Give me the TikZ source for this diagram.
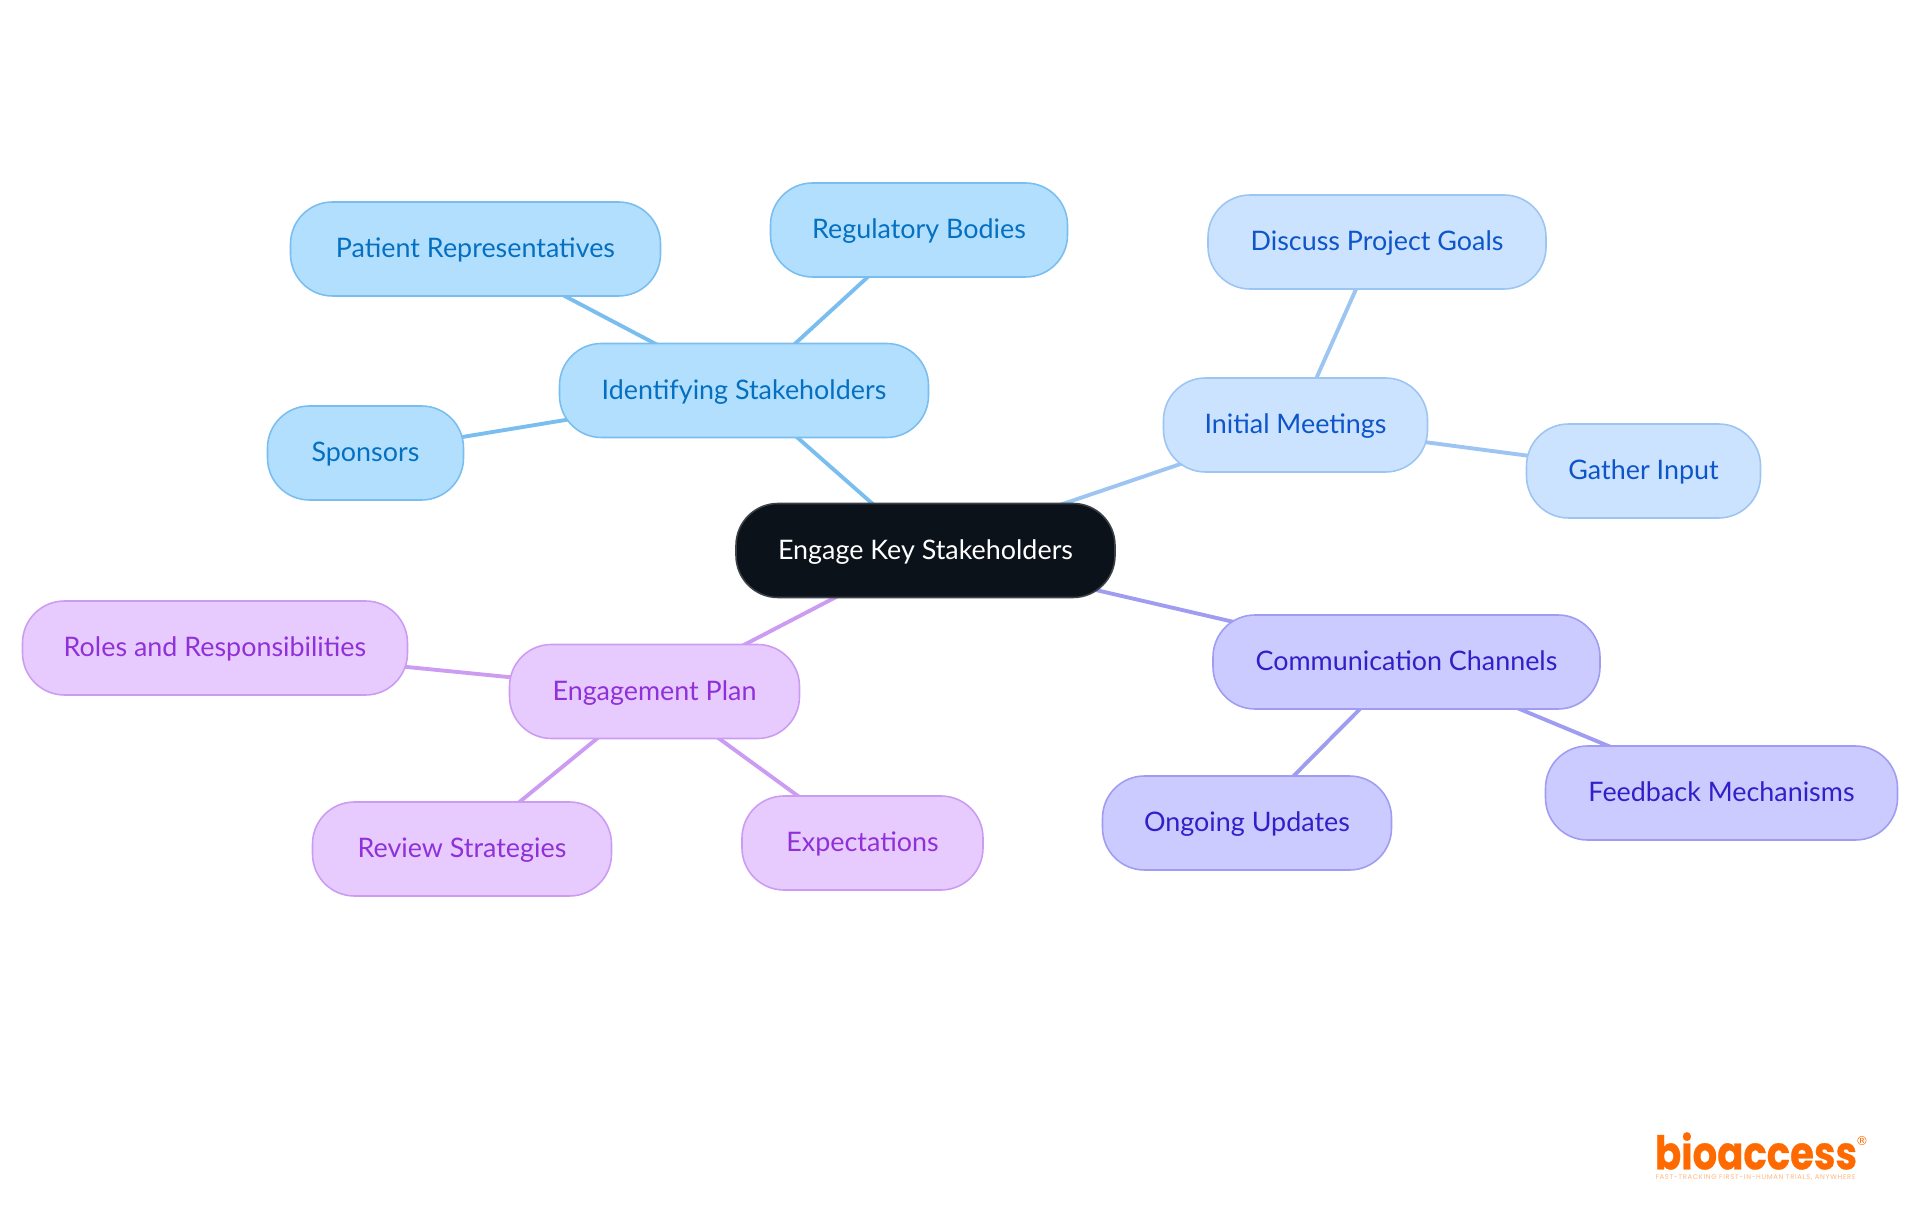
\documentclass[tikz,border=0pt]{standalone}
\usepackage{fontspec}
\setmainfont{Lato}
\newfontfamily\logofont[FakeBold=0.6]{Poppins}
\newfontfamily\tagfont[LetterSpace=10]{Poppins}
\newfontfamily\markfont{DejaVu Sans}
\usetikzlibrary{backgrounds}
\definecolor{rootfill}{HTML}{0C121A}
\definecolor{rootline}{HTML}{3C4148}
\definecolor{bluefill}{HTML}{B3DFFF}
\definecolor{blueline}{HTML}{7ABEF0}
\definecolor{bluetext}{HTML}{0570C0}
\definecolor{skyfill}{HTML}{CCE3FF}
\definecolor{skyline}{HTML}{9CC5F2}
\definecolor{skytext}{HTML}{0D55C8}
\definecolor{indigofill}{HTML}{CBCBFF}
\definecolor{indigoline}{HTML}{A09CF2}
\definecolor{indigotext}{HTML}{3020C8}
\definecolor{purplefill}{HTML}{E7CBFF}
\definecolor{purpleline}{HTML}{CB9CF2}
\definecolor{purpletext}{HTML}{9030D8}
\definecolor{logoorange}{HTML}{FF6A00}
\tikzset{
  mapnode/.style={draw, line width=0.45pt, rounded corners=0.42cm, minimum height=0.94cm,
    inner sep=0pt, text height=6.3pt, text depth=1.4pt, font=\fontsize{7.65}{9}\selectfont},
  rootnode/.style={mapnode, fill=rootfill, draw=rootline, text=white},
  bluenode/.style={mapnode, fill=bluefill, draw=blueline, text=bluetext},
  skynode/.style={mapnode, fill=skyfill, draw=skyline, text=skytext},
  indigonode/.style={mapnode, fill=indigofill, draw=indigoline, text=indigotext},
  purplenode/.style={mapnode, fill=purplefill, draw=purpleline, text=purpletext},
  bluelink/.style={draw=blueline, line width=1.1pt},
  skylink/.style={draw=skyline, line width=1.1pt},
  indigolink/.style={draw=indigoline, line width=1.1pt},
  purplelink/.style={draw=purpleline, line width=1.1pt}
}
\begin{document}
\begin{tikzpicture}
    \useasboundingbox (0, 0) rectangle (19.2, 12.15);
    % root
    \node[rootnode, minimum width=3.79cm] (root) at (9.255, 6.645) {Engage Key Stakeholders};
    % blue branch
    \node[bluenode, minimum width=3.69cm] (identify) at (7.44, 8.245) {Identifying Stakeholders};
    \node[bluenode, minimum width=3.7cm] (patient) at (4.755, 9.66) {Patient Representatives};
    \node[bluenode, minimum width=2.97cm] (regulatory) at (9.19, 9.85) {Regulatory Bodies};
    \node[bluenode, minimum width=1.96cm] (sponsors) at (3.655, 7.62) {Sponsors};
    % light blue branch
    \node[skynode, minimum width=2.64cm] (meetings) at (12.955, 7.9) {Initial Meetings};
    \node[skynode, minimum width=3.38cm] (goals) at (13.77, 9.73) {Discuss Project Goals};
    \node[skynode, minimum width=2.34cm] (input) at (16.435, 7.44) {Gather Input};
    % indigo branch
    \node[indigonode, minimum width=3.87cm] (channels) at (14.065, 5.53) {Communication Channels};
    \node[indigonode, minimum width=3.52cm] (feedback) at (17.215, 4.22) {Feedback Mechanisms};
    \node[indigonode, minimum width=2.89cm] (updates) at (12.47, 3.92) {Ongoing Updates};
    % purple branch
    \node[purplenode, minimum width=2.9cm] (plan) at (6.545, 5.235) {Engagement Plan};
    \node[purplenode, minimum width=3.85cm] (roles) at (2.15, 5.67) {Roles and Responsibilities};
    \node[purplenode, minimum width=2.99cm] (review) at (4.62, 3.66) {Review Strategies};
    \node[purplenode, minimum width=2.41cm] (expect) at (8.625, 3.72) {Expectations};
    % links go behind the nodes
    \begin{scope}[on background layer]
      \draw[bluelink] (root.center) -- (identify.center);
      \draw[bluelink] (identify.center) -- (patient.center);
      \draw[bluelink] (identify.center) -- (regulatory.center);
      \draw[bluelink] (identify.center) -- (sponsors.center);
      \draw[skylink] (root.center) -- (meetings.center);
      \draw[skylink] (meetings.center) -- (goals.center);
      \draw[skylink] (meetings.center) -- (input.center);
      \draw[indigolink] (root.center) -- (channels.center);
      \draw[indigolink] (channels.center) -- (feedback.center);
      \draw[indigolink] (channels.center) -- (updates.center);
      \draw[purplelink] (root.center) -- (plan.center);
      \draw[purplelink] (plan.center) -- (roles.center);
      \draw[purplelink] (plan.center) -- (review.center);
      \draw[purplelink] (plan.center) -- (expect.center);
    \end{scope}
    % logo
    \node[text=logoorange, inner sep=0pt, font=\logofont\bfseries] (logo) at (17.56, 0.64) {\resizebox{2.02cm}{0.37cm}{bioaccess}};
    \node[text=logoorange, inner sep=0pt, font=\markfont\fontsize{3.5}{4}\selectfont] (mark) at (18.62, 0.735) {®};
    \node[text=logoorange!50, inner sep=0pt, font=\tagfont] (tagline) at (17.555, 0.37) {\resizebox{2.0cm}{!}{FAST-TRACKING FIRST-IN-HUMAN TRIALS, ANYWHERE}};
  \end{tikzpicture}
\end{document}
